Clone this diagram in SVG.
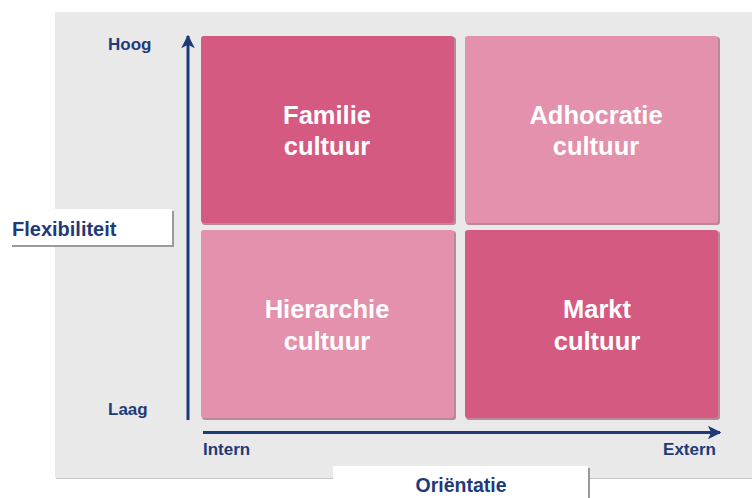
<svg xmlns="http://www.w3.org/2000/svg" width="752" height="498" viewBox="0 0 752 498">
<defs>
<style>
.ax{font-family:"Liberation Sans",Arial,sans-serif;font-weight:bold;fill:#1f3a78;}
.q{font-family:"Liberation Sans",Arial,sans-serif;font-weight:bold;font-size:25.5px;fill:#ffffff;text-anchor:middle;}
.dark{fill:#d55a82;}
.light{fill:#e391ac;}
.shadow{fill:#9a4a66;opacity:0.6;}
.line{stroke:#1f3a78;stroke-width:3;fill:none;}
</style>
<marker id="ah" viewBox="0 0 10 10" refX="9" refY="5" markerWidth="4.5" markerHeight="4.5" orient="auto" markerUnits="strokeWidth">
<path d="M0,0 L10,5 L0,10 L2.5,5 Z" fill="#1f3a78"/>
</marker>
</defs>
<rect x="0" y="0" width="752" height="498" fill="#ffffff"/>
<rect x="56" y="13" width="700" height="466" fill="#8a8a8a" opacity="0.5"/>
<rect x="55" y="12" width="700" height="466" fill="#e9e9ea"/>
<g id="familie">
<rect class="shadow" x="202" y="37" width="254" height="188" rx="3"/>
<rect class="dark" x="201" y="36" width="253" height="187" rx="3"/>
<text class="q" x="327" y="124">Familie</text>
<text class="q" x="327" y="155">cultuur</text>
</g>
<g id="adhocratie">
<rect class="shadow" x="466" y="37" width="254" height="188" rx="3"/>
<rect class="light" x="465" y="36" width="253" height="187" rx="3"/>
<text class="q" x="596" y="124">Adhocratie</text>
<text class="q" x="596" y="155">cultuur</text>
</g>
<g id="hierarchie">
<rect class="shadow" x="202" y="231" width="254" height="189" rx="3"/>
<rect class="light" x="201" y="230" width="253" height="188" rx="3"/>
<text class="q" x="327" y="318">Hierarchie</text>
<text class="q" x="327" y="350">cultuur</text>
</g>
<g id="markt">
<rect class="shadow" x="466" y="231" width="254" height="189" rx="3"/>
<rect class="dark" x="465" y="230" width="253" height="188" rx="3"/>
<text class="q" x="597" y="318">Markt</text>
<text class="q" x="597" y="350">cultuur</text>
</g>
<g id="connectors">
<line class="line" x1="188" y1="420" x2="188" y2="36" marker-end="url(#ah)"/>
<line class="line" x1="203" y1="432.5" x2="720" y2="432.5" marker-end="url(#ah)"/>
</g>
<g id="labels">
<text class="ax" x="108" y="50" font-size="17">Hoog</text>
<text class="ax" x="108" y="415" font-size="17">Laag</text>
<text class="ax" x="203" y="455" font-size="17">Intern</text>
<text class="ax" x="716" y="455" font-size="17" text-anchor="end">Extern</text>
</g>
<g id="flexibiliteit">
<rect x="12" y="211" width="162" height="36" fill="#9a9a9a"/>
<rect x="10" y="209" width="162" height="36" fill="#ffffff"/>
<text class="ax" x="12" y="236" font-size="20">Flexibiliteit</text>
</g>
<g id="orientatie">
<rect x="335" y="468" width="255" height="32" fill="#9a9a9a"/>
<rect x="333" y="466" width="255" height="34" fill="#ffffff"/>
<text class="ax" x="461" y="492" font-size="19.5" text-anchor="middle">Oriëntatie</text>
</g>
</svg>
